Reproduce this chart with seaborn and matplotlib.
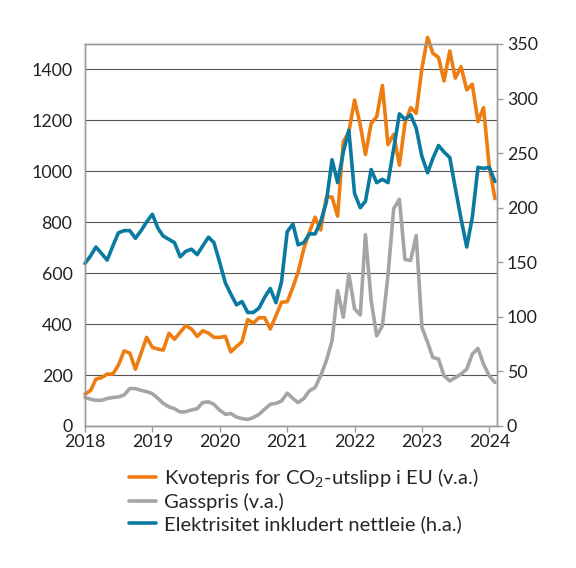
import numpy as np
import pandas as pd
import seaborn as sns
import matplotlib.pyplot as plt
import matplotlib.dates as mdates

# monthly values Jan 2018 - Feb 2024
months = pd.date_range('2018-01-01', '2024-02-01', freq='MS')

kvotepris = [125, 140, 184, 190, 204, 204, 239, 295, 286, 223, 286, 348,
             309, 302, 298, 364, 341, 368, 394, 381, 352, 374, 365, 348,
             348, 352, 291, 312, 331, 418, 404, 425, 425, 381, 433, 486,
             488, 545, 604, 696, 761, 820, 770, 899, 899, 824, 1116, 1155,
             1280, 1182, 1066, 1188, 1215, 1337, 1105, 1145, 1024, 1188, 1250, 1228,
             1405, 1526, 1464, 1447, 1355, 1473, 1366, 1411, 1320, 1342, 1195, 1250,
             1018, 893]

gasspris = [112, 105, 101, 101, 108, 112, 114, 122, 147, 147, 140, 135,
            127, 108, 89, 75, 68, 55, 56, 63, 68, 92, 95, 85,
            62, 46, 49, 35, 29, 26, 33, 46, 66, 85, 89, 98,
            129, 108, 92, 108, 138, 151, 197, 256, 335, 532, 427, 597,
            460, 436, 751, 492, 354, 394, 591, 853, 890, 654, 650, 748,
            387, 328, 269, 263, 197, 177, 190, 204, 223, 282, 305, 243,
            197, 171]

elektrisitet = [149, 156, 164, 158, 152, 165, 177, 179, 179, 172, 179, 187,
                194, 181, 174, 171, 168, 155, 160, 162, 157, 165, 173, 168,
                150, 131, 121, 111, 114, 104, 104, 108, 118, 126, 113, 132,
                178, 185, 166, 168, 176, 176, 187, 205, 244, 223, 251, 271,
                213, 200, 206, 235, 223, 226, 223, 254, 286, 281, 285, 273,
                247, 232, 245, 257, 251, 246, 218, 190, 164, 191, 237, 236,
                237, 224]

labels = ['Kvotepris for CO$_2$-utslipp i EU (v.a.)',
          'Gasspris (v.a.)',
          'Elektrisitet inkludert nettleie (h.a.)']
colors = ['#EE7D11', '#A5A5A5', '#0A7AA0']

sns.set_style('white')
plt.rcParams['font.family'] = ['Lato', 'DejaVu Sans']
plt.rcParams['mathtext.default'] = 'regular'

df_left = pd.DataFrame({'date': months, labels[0]: kvotepris, labels[1]: gasspris})
df_left = df_left.melt(id_vars='date', var_name='serie', value_name='verdi')
df_right = pd.DataFrame({'date': months, 'verdi': elektrisitet})

fig = plt.figure(figsize=(5.76, 5.68), dpi=100)
ax = fig.add_axes([85 / 576, 1 - 426 / 568, 412 / 576, 382 / 568])
ax2 = ax.twinx()

lw = 2.6
sns.lineplot(data=df_left, x='date', y='verdi', hue='serie',
             palette=colors[:2], linewidth=lw, ax=ax, legend=False, clip_on=False)
sns.lineplot(data=df_right, x='date', y='verdi', color=colors[2],
             linewidth=lw, ax=ax2, legend=False, clip_on=False)

ax.set_xlim(pd.Timestamp('2018-01-01'), pd.Timestamp('2024-02-12'))
ax.set_ylim(0, 1500)
ax2.set_ylim(0, 350)
ax.set_yticks(range(0, 1500, 200))
ax2.set_yticks(range(0, 351, 50))
ax.xaxis.set_major_locator(mdates.YearLocator())
ax.xaxis.set_major_formatter(mdates.DateFormatter('%Y'))

ax.grid(axis='y', color='#555555', linewidth=0.8)
ax.set_axisbelow(True)
for a in (ax, ax2):
    a.set_xlabel('')
    a.set_ylabel('')
    for s in a.spines.values():
        s.set_color('#9a9a9a')
        s.set_linewidth(1.0)

ax.tick_params(axis='y', length=0, pad=9, labelsize=12.8, colors='#222222')
ax.tick_params(axis='x', length=4, width=1, color='#9a9a9a', pad=2,
               labelsize=12.8, labelcolor='#222222', direction='out', bottom=True)
ax2.tick_params(axis='y', length=4, width=1, color='#9a9a9a', pad=3,
                labelsize=12.8, labelcolor='#222222', direction='out', right=True)

handles = [plt.Line2D([], [], color=c, linewidth=lw) for c in colors]
fig.legend(handles, labels, loc='upper left', bbox_to_anchor=(129 / 576, 1 - 466 / 568),
           frameon=False, fontsize=14.5, handlelength=1.35, handletextpad=0.4,
           labelspacing=0.2, borderaxespad=0, borderpad=0)

fig.savefig('out.png', dpi=100)
